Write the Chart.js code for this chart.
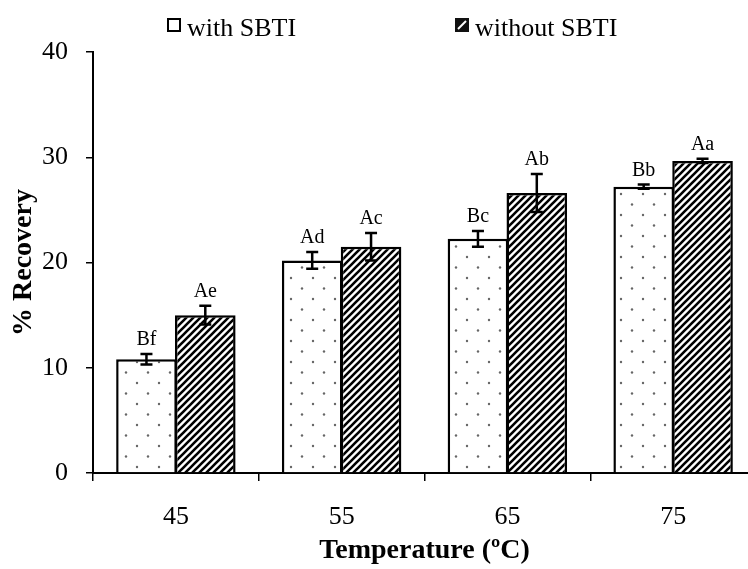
<!DOCTYPE html>
<html>
<head>
<meta charset="utf-8">
<script src="https://cdn.jsdelivr.net/npm/chart.js@4.4.0/dist/chart.umd.min.js"></script>
<style>
  html, body { margin: 0; padding: 0; background: #fff; overflow: hidden; }
  #wrap { width: 748px; height: 569px; overflow: hidden; }
  canvas { display: block; }
</style>
</head>
<body>
<div id="wrap"><canvas id="recovery-chart" width="760" height="569"></canvas></div>
<script>
// Recovery by temperature, with and without SBTI
const temperatures = ['45', '55', '65', '75'];
const withSbti = [10.8, 20.2, 22.25, 27.2];
const withSbtiErr = [0.5, 0.8, 0.75, 0.2];
const withSbtiLetters = ['Bf', 'Ad', 'Bc', 'Bb'];
const withoutSbti = [15.0, 21.5, 26.6, 29.65];
const withoutSbtiErr = [0.9, 1.3, 1.8, 0.2];
const withoutSbtiLetters = ['Ae', 'Ac', 'Ab', 'Aa'];
const yTicks = [0, 10, 20, 30, 40];

const serif = "'Liberation Serif', 'Times New Roman', serif";

// Dotted fill for the "with" bars
function makeDotPattern() {
  const c = document.createElement('canvas');
  c.width = 22;
  c.height = 21;
  const g = c.getContext('2d');
  g.fillStyle = '#fff';
  g.fillRect(0, 0, 22, 21);
  g.fillStyle = '#666';
  [[5, 5], [16, 15.5]].forEach(([x, y]) => {
    g.beginPath();
    g.arc(x, y, 1.2, 0, Math.PI * 2);
    g.fill();
  });
  return g.createPattern(c, 'repeat');
}

// Diagonal hatch for the "without" bars
function makeStripePattern() {
  const s = 7;
  const c = document.createElement('canvas');
  c.width = s;
  c.height = s;
  const g = c.getContext('2d');
  g.fillStyle = '#fff';
  g.fillRect(0, 0, s, s);
  g.strokeStyle = '#000';
  g.lineWidth = 2.6;
  g.beginPath();
  g.moveTo(0, s); g.lineTo(s, 0);
  g.moveTo(-1, 1); g.lineTo(1, -1);
  g.moveTo(s - 1, s + 1); g.lineTo(s + 1, s - 1);
  g.stroke();
  return g.createPattern(c, 'repeat');
}

const errors = [withSbtiErr, withoutSbtiErr];
const letters = [withSbtiLetters, withoutSbtiLetters];

// Error bars plus significance letters above each bar
const errorBarPlugin = {
  id: 'errorBars',
  afterDatasetsDraw(chart) {
    const ctx = chart.ctx;
    const yScale = chart.scales.y;
    ctx.save();
    chart.data.datasets.forEach((ds, i) => {
      const meta = chart.getDatasetMeta(i);
      meta.data.forEach((bar, j) => {
        const v = ds.data[j];
        const e = errors[i][j];
        const top = yScale.getPixelForValue(v + e);
        const bottom = yScale.getPixelForValue(v - e);
        ctx.strokeStyle = '#000';
        ctx.lineWidth = 2.5;
        ctx.beginPath();
        ctx.moveTo(bar.x, top);
        ctx.lineTo(bar.x, bottom);
        ctx.moveTo(bar.x - 6, top);
        ctx.lineTo(bar.x + 6, top);
        ctx.moveTo(bar.x - 6, bottom);
        ctx.lineTo(bar.x + 6, bottom);
        ctx.stroke();

        ctx.fillStyle = '#000';
        ctx.font = '20px ' + serif;
        ctx.textAlign = 'center';
        ctx.textBaseline = 'alphabetic';
        ctx.fillText(letters[i][j], bar.x, top - 9);
      });
    });
    ctx.restore();
  }
};

// Legend row across the top
const topLegendPlugin = {
  id: 'topLegend',
  afterDraw(chart) {
    const ctx = chart.ctx;
    const items = [
      { x: 167, label: chart.data.datasets[0].label, dark: false },
      { x: 455, label: chart.data.datasets[1].label, dark: true }
    ];
    ctx.save();
    items.forEach(item => {
      const bx = item.x, by = 18, bs = 14;
      ctx.lineWidth = 2;
      ctx.strokeStyle = '#000';
      if (item.dark) {
        ctx.fillStyle = '#111';
        ctx.fillRect(bx, by, bs, bs);
        ctx.strokeStyle = '#fff';
        ctx.lineWidth = 2;
        ctx.beginPath();
        ctx.moveTo(bx + 3, by + bs - 3);
        ctx.lineTo(bx + bs - 3, by + 3);
        ctx.stroke();
      } else {
        ctx.fillStyle = '#fff';
        ctx.fillRect(bx, by, bs, bs);
        ctx.strokeRect(bx + 1, by + 1, bs - 2, bs - 2);
      }
      ctx.fillStyle = '#000';
      ctx.font = '26px ' + serif;
      ctx.textAlign = 'left';
      ctx.textBaseline = 'alphabetic';
      ctx.fillText(item.label, bx + bs + 6, 36);
    });
    ctx.restore();
  }
};

const ctx = document.getElementById('recovery-chart').getContext('2d');

new Chart(ctx, {
  type: 'bar',
  data: {
    labels: temperatures,
    datasets: [
      {
        label: 'with SBTI',
        data: withSbti,
        backgroundColor: makeDotPattern(),
        borderColor: '#000',
        borderWidth: 2.5,
        borderSkipped: 'bottom'
      },
      {
        label: 'without SBTI',
        data: withoutSbti,
        backgroundColor: makeStripePattern(),
        borderColor: '#000',
        borderWidth: 2.5,
        borderSkipped: 'bottom'
      }
    ]
  },
  options: {
    responsive: false,
    animation: false,
    devicePixelRatio: 1,
    layout: {
      padding: { left: 0, top: 52, right: 4, bottom: 0 }
    },
    datasets: {
      bar: {
        // slight overlap so neighbouring bars share one edge line
        categoryPercentage: 0.71,
        barPercentage: 1.03
      }
    },
    plugins: {
      legend: { display: false },
      tooltip: { enabled: false }
    },
    scales: {
      x: {
        afterFit(scale) { scale.height = 96; },
        grid: {
          display: true,
          drawOnChartArea: false,
          drawTicks: true,
          tickLength: 8,
          color: '#000',
          lineWidth: 1.5
        },
        border: { color: '#000', width: 2 },
        ticks: {
          color: '#000',
          padding: 21,
          font: { family: serif, size: 26 }
        },
        title: {
          display: true,
          text: 'Temperature (ºC)',
          color: '#000',
          padding: 1,
          font: { family: serif, size: 28, weight: 'bold' }
        }
      },
      y: {
        min: 0,
        max: 40,
        afterFit(scale) { scale.width = 93; },
        afterBuildTicks(scale) {
          scale.ticks = yTicks.map(v => ({ value: v }));
        },
        grid: {
          display: true,
          drawOnChartArea: false,
          drawTicks: true,
          tickLength: 7,
          color: '#000',
          lineWidth: 1.5
        },
        border: { color: '#000', width: 2 },
        ticks: {
          color: '#000',
          padding: 18,
          font: { family: serif, size: 26 }
        },
        title: {
          display: true,
          text: '% Recovery',
          color: '#000',
          padding: 7,
          font: { family: serif, size: 28, weight: 'bold' }
        }
      }
    }
  },
  plugins: [errorBarPlugin, topLegendPlugin]
});
</script>
</body>
</html>
